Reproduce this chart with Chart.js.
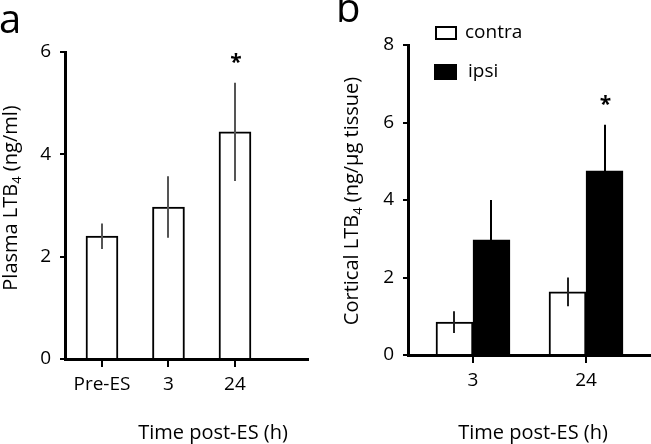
<!DOCTYPE html>
<html>
<head>
<meta charset="utf-8">
<script src="https://cdn.jsdelivr.net/npm/chart.js@4/dist/chart.umd.min.js"></script>
<style>
  body { margin: 0; background: #fff; }
  #wrap { position: relative; width: 651px; height: 444px; overflow: hidden; }
  canvas { position: absolute; top: 0; }
  #ca { left: 0; }
  #cb { left: 325px; }
</style>
</head>
<body>
<div id="wrap">
  <canvas id="ca" width="325" height="444"></canvas>
  <canvas id="cb" width="326" height="444"></canvas>
</div>
<script>
// panel a: plasma LTB4
const catsA = ['Pre-ES', '3', '24'];
const plasmaMean = [2.40, 2.97, 4.44];
const plasmaErr = [0.25, 0.60, 0.96];
const plasmaSig = ['', '', '*'];

// panel b: cortical LTB4
const catsB = ['3', '24'];
const contraMean = [0.85, 1.63];
const contraErr = [0.28, 0.37];
const ipsiMean = [2.97, 4.75];
const ipsiErr = [1.03, 1.19];
const ipsiSig = ['', '*'];

const FONT = 'Open Sans';
Chart.defaults.font.family = FONT;
Chart.defaults.color = '#000';

// draws text with a subscript piece, centred on (x, y)
function drawRich(ctx, parts, x, y, size, rotate) {
    ctx.save();
    ctx.translate(x, y);
    if (rotate) ctx.rotate(-Math.PI / 2);
    ctx.textBaseline = 'middle';
    ctx.textAlign = 'left';
    const fontFor = p => (p.sub ? Math.round(size * 0.65) : size) + 'px ' + FONT;
    let total = 0;
    parts.forEach(p => { ctx.font = fontFor(p); total += ctx.measureText(p.t).width; });
    let cx = -total / 2;
    parts.forEach(p => {
        ctx.font = fontFor(p);
        ctx.fillStyle = '#000';
        ctx.fillText(p.t, cx, p.sub ? size * 0.3 : 0);
        cx += ctx.measureText(p.t).width;
    });
    ctx.restore();
}

function errorBars(chart, dsIndex, errs, color) {
    const ctx = chart.ctx;
    const y = chart.scales.y;
    const values = chart.data.datasets[dsIndex].data;
    chart.getDatasetMeta(dsIndex).data.forEach((bar, i) => {
        const v = values[i].y;
        ctx.save();
        ctx.strokeStyle = color;
        ctx.lineWidth = 2;
        ctx.beginPath();
        ctx.moveTo(Math.round(bar.x), y.getPixelForValue(v + errs[i]));
        ctx.lineTo(Math.round(bar.x), y.getPixelForValue(v - errs[i]));
        ctx.stroke();
        ctx.restore();
    });
}

function stars(chart, dsIndex, errs, sig) {
    const ctx = chart.ctx;
    const y = chart.scales.y;
    const values = chart.data.datasets[dsIndex].data;
    chart.getDatasetMeta(dsIndex).data.forEach((bar, i) => {
        if (!sig[i]) return;
        const top = y.getPixelForValue(values[i].y + errs[i]);
        ctx.save();
        ctx.font = 'bold 21px ' + FONT;
        ctx.textAlign = 'center';
        ctx.textBaseline = 'alphabetic';
        ctx.fillStyle = '#000';
        ctx.fillText(sig[i], bar.x + 1, top - 14);
        ctx.restore();
    });
}

function axisOpts(cats, min, max, yMax, yWidth, xHeight) {
    return {
        x: {
            type: 'linear',
            min: min,
            max: max,
            offset: false,
            afterBuildTicks: scale => { scale.ticks = cats.map((c, i) => ({ value: i })); },
            afterFit: scale => { scale.height = xHeight; },
            ticks: { callback: v => cats[v], font: { size: 19 }, padding: 6, maxRotation: 0, autoSkip: false },
            grid: { offset: false, drawOnChartArea: false, tickLength: 8, color: '#000', lineWidth: 2 },
            border: { color: '#000', width: 3 }
        },
        y: {
            min: 0,
            max: yMax,
            afterFit: scale => { scale.width = yWidth; },
            ticks: { stepSize: 2, font: { size: 19 }, padding: 9 },
            grid: { drawOnChartArea: false, tickLength: 5, color: '#000', lineWidth: 2 },
            border: { color: '#000', width: 3 }
        }
    };
}

new Chart(document.getElementById('ca'), {
    type: 'bar',
    data: {
        datasets: [{
            data: plasmaMean.map((v, i) => ({ x: i, y: v })),
            backgroundColor: '#fff',
            borderColor: '#000',
            borderWidth: 2,
            barThickness: 32
        }]
    },
    options: {
        responsive: false,
        animation: false,
        layout: { padding: { top: 52, right: 17, left: 0, bottom: 0 } },
        plugins: { legend: { display: false }, tooltip: { enabled: false } },
        scales: axisOpts(catsA, -0.556, 3.098, 6, 65, 85)
    },
    plugins: [{
        id: 'extrasA',
        afterDatasetsDraw(chart) {
            errorBars(chart, 0, plasmaErr, '#555');
            stars(chart, 0, plasmaErr, plasmaSig);
        },
        afterDraw(chart) {
            const ctx = chart.ctx;
            ctx.save();
            ctx.font = '40px ' + FONT;
            ctx.fillStyle = '#000';
            ctx.textBaseline = 'alphabetic';
            ctx.fillText('a', -1, 33);
            ctx.restore();
            drawRich(ctx, [{ t: 'Plasma LTB' }, { t: '4', sub: true }, { t: ' (ng/ml)' }], 11, 198, 20, true);
            drawRich(ctx, [{ t: 'Time post-ES (h)' }], 213, 433, 20, false);
        }
    }]
});

new Chart(document.getElementById('cb'), {
    type: 'bar',
    data: {
        datasets: [{
            label: 'contra',
            data: contraMean.map((v, i) => ({ x: i, y: v })),
            backgroundColor: '#fff',
            borderColor: '#000',
            borderWidth: 2,
            barThickness: 37
        }, {
            label: 'ipsi',
            data: ipsiMean.map((v, i) => ({ x: i, y: v })),
            backgroundColor: '#000',
            borderColor: '#000',
            borderWidth: 2,
            barThickness: 37
        }]
    },
    options: {
        responsive: false,
        animation: false,
        layout: { padding: { top: 45, right: 0, left: 0, bottom: 0 } },
        plugins: { legend: { display: false }, tooltip: { enabled: false } },
        scales: axisOpts(catsB, -0.575, 1.575, 8, 83, 89)
    },
    plugins: [{
        id: 'extrasB',
        afterDatasetsDraw(chart) {
            errorBars(chart, 0, contraErr, '#222');
            errorBars(chart, 1, ipsiErr, '#000');
            stars(chart, 1, ipsiErr, ipsiSig);
        },
        afterDraw(chart) {
            const ctx = chart.ctx;
            ctx.save();
            ctx.font = '40px ' + FONT;
            ctx.fillStyle = '#000';
            ctx.fillText('b', 11, 22);
            // legend
            ctx.lineWidth = 2;
            ctx.strokeStyle = '#000';
            ctx.fillStyle = '#fff';
            ctx.fillRect(111, 27, 20, 12);
            ctx.strokeRect(111, 27, 20, 12);
            ctx.fillStyle = '#000';
            ctx.fillRect(109, 64, 23, 16);
            ctx.font = '19px ' + FONT;
            ctx.textBaseline = 'middle';
            ctx.fillText(chart.data.datasets[0].label, 140, 33);
            ctx.fillText(chart.data.datasets[1].label, 143, 72);
            ctx.restore();
            drawRich(ctx, [{ t: 'Cortical LTB' }, { t: '4', sub: true }, { t: ' (ng/\u03bcg tissue)' }], 27, 201, 20, true);
            drawRich(ctx, [{ t: 'Time post-ES (h)' }], 208, 433, 20, false);
        }
    }]
});
</script>
</body>
</html>
